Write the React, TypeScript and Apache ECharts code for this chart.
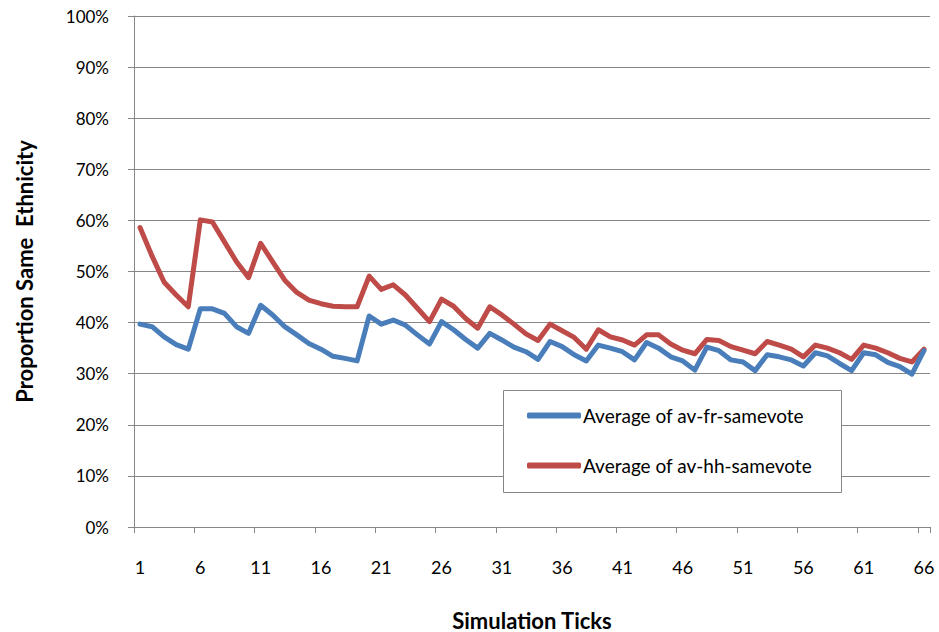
import React, { useEffect, useRef } from "react";
import * as echarts from "echarts";

const ticks: string[] = Array.from({ length: 66 }, (_, i) => String(i + 1));

const seriesNames = ["Average of av-fr-samevote", "Average of av-hh-samevote"];

const frSamevote: number[] = [
  39.7, 39.2, 37.2, 35.7, 34.8, 42.7, 42.7, 41.8, 39.2, 37.9,
  43.4, 41.5, 39.2, 37.6, 35.9, 34.8, 33.4, 33.0, 32.5, 41.3,
  39.7, 40.5, 39.5, 37.6, 35.8, 40.2, 38.6, 36.7, 35.0, 37.9,
  36.6, 35.2, 34.3, 32.8, 36.3, 35.3, 33.7, 32.5, 35.6, 35.0,
  34.3, 32.7, 36.1, 35.0, 33.3, 32.5, 30.7, 35.2, 34.5, 32.7,
  32.3, 30.6, 33.7, 33.3, 32.7, 31.5, 34.1, 33.5, 32.0, 30.6,
  34.1, 33.7, 32.2, 31.4, 29.9, 34.5,
];

const hhSamevote: number[] = [
  58.6, 53.0, 47.9, 45.4, 43.1, 60.1, 59.7, 55.8, 51.9, 48.8,
  55.5, 51.9, 48.3, 45.9, 44.4, 43.7, 43.2, 43.1, 43.1, 49.1,
  46.5, 47.4, 45.4, 42.8, 40.2, 44.6, 43.2, 40.8, 38.9, 43.1,
  41.5, 39.7, 37.8, 36.5, 39.7, 38.4, 37.1, 34.8, 38.6, 37.2,
  36.6, 35.6, 37.6, 37.6, 35.8, 34.6, 33.9, 36.7, 36.5, 35.3,
  34.6, 33.9, 36.3, 35.6, 34.8, 33.3, 35.6, 35.0, 34.1, 32.8,
  35.6, 35.0, 34.1, 33.0, 32.3, 34.8,
];

const colors = ["#4A7EBB", "#BE4B48"];
const FONT = "Lato, 'Open Sans', sans-serif";

export default function App() {
  const ref = useRef<HTMLDivElement>(null);

  useEffect(() => {
    document.body.style.margin = "0";
    if (!ref.current) return;
    const chart = echarts.init(ref.current, null, { renderer: "svg" });
    const option: any = {
      animation: false,
      backgroundColor: "#ffffff",
      textStyle: { fontFamily: FONT, color: "#000" },
      grid: {
        left: 134,
        right: 9,
        top: 16,
        bottom: 105,
        containLabel: false,
        outerBoundsMode: "none",
      },
      xAxis: {
        type: "category",
        data: ticks,
        boundaryGap: true,
        name: "Simulation Ticks",
        nameLocation: "middle",
        nameGap: 82,
        nameTextStyle: { fontFamily: FONT, fontWeight: "bold", fontSize: 22, color: "#000" },
        axisLine: { lineStyle: { color: "#868686", width: 1 } },
        axisTick: { show: true, interval: 4, length: 6, lineStyle: { color: "#868686" } },
        axisLabel: { interval: 4, margin: 31, fontSize: 18, fontFamily: FONT, color: "#000" },
        splitLine: { show: false },
      },
      yAxis: {
        type: "value",
        min: 0,
        max: 100,
        interval: 10,
        name: "Proportion Same  Ethnicity",
        nameLocation: "middle",
        nameGap: 99,
        nameTextStyle: { fontFamily: FONT, fontWeight: "bold", fontSize: 22, color: "#000" },
        axisLine: { show: true, lineStyle: { color: "#868686", width: 1 } },
        axisTick: { show: true, length: 6, lineStyle: { color: "#868686" } },
        axisLabel: { formatter: "{value}%", margin: 25, fontSize: 17, fontFamily: FONT, color: "#000" },
        splitLine: { show: true, lineStyle: { color: "#868686", width: 1 } },
      },
      legend: {
        orient: "vertical",
        left: 527,
        top: 406,
        itemGap: 31,
        itemWidth: 54,
        itemHeight: 6,
        icon: "roundRect",
        padding: 0,
        textStyle: { fontFamily: FONT, fontSize: 19, color: "#000", padding: [0, 0, 0, -3] },
        data: seriesNames,
      },
      graphic: [
        {
          type: "rect",
          left: 503,
          top: 390,
          shape: { width: 338, height: 102 },
          style: { fill: "#ffffff", stroke: "#868686", lineWidth: 1 },
          z: 1,
        },
      ],
      series: [
        {
          name: seriesNames[0],
          type: "line",
          data: frSamevote,
          showSymbol: false,
          symbol: "none",
          lineStyle: { color: colors[0], width: 5, cap: "round", join: "round" },
          itemStyle: { color: colors[0] },
          z: 3,
        },
        {
          name: seriesNames[1],
          type: "line",
          data: hhSamevote,
          showSymbol: false,
          symbol: "none",
          lineStyle: { color: colors[1], width: 5, cap: "round", join: "round" },
          itemStyle: { color: colors[1] },
          z: 2,
        },
      ],
    };
    chart.setOption(option);
    return () => chart.dispose();
  }, []);

  return <div ref={ref} style={{ width: 939, height: 632 }} />;
}
